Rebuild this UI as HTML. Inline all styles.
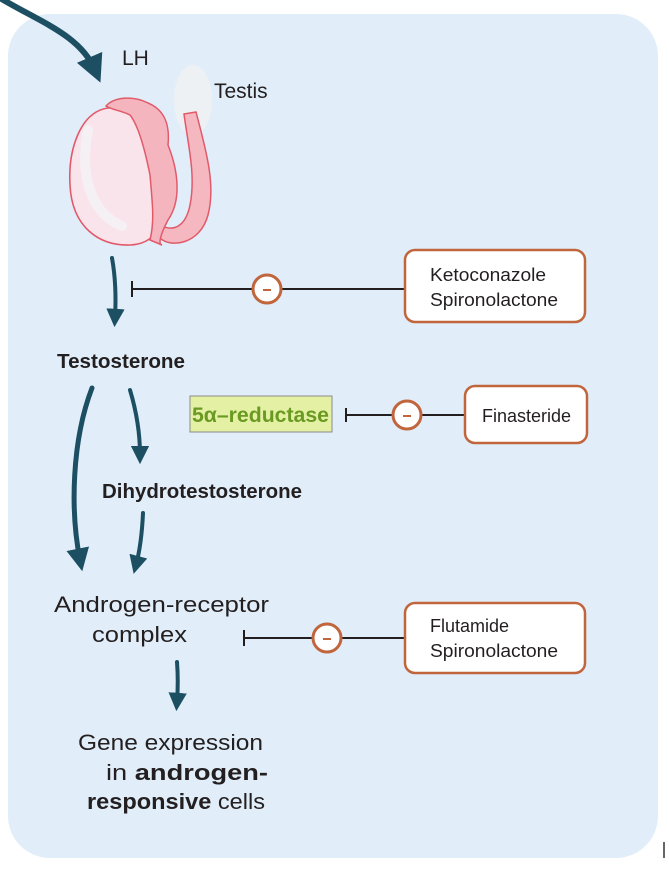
<!DOCTYPE html>
<html><head><meta charset="utf-8"><style>
body{margin:0;background:#fff;width:669px;height:869px;overflow:hidden}
svg{display:block}
text{font-family:"Liberation Sans",sans-serif;fill:#231f20}
</style></head><body>
<svg width="669" height="869" viewBox="0 0 669 869">
<defs>
<marker id="ah" viewBox="0 0 10 10" refX="5" refY="5" markerWidth="4.6" markerHeight="4.6" orient="auto" markerUnits="strokeWidth"><path d="M0,0 L10,5 L0,10 z" fill="#1d4f62"/></marker>
</defs>
<rect x="8" y="14" width="650" height="844" rx="42" fill="#e1eef9"/>
<line x1="664" y1="842" x2="664" y2="858" stroke="#666" stroke-width="2"/>

<g fill="none" stroke="#1d4f62" stroke-linecap="round">
<path d="M0,-2 C40,22 80,35 95,70" stroke-width="6" marker-end="url(#ah)"/>
<path d="M112,258 C116,280 116,300 115,318" stroke-width="4" marker-end="url(#ah)"/>
<path d="M92,388 C72,440 70,510 80,560" stroke-width="5" marker-end="url(#ah)"/>
<path d="M130,390 C136,410 140,430 140,455" stroke-width="4" marker-end="url(#ah)"/>
<path d="M143,513 C142,535 140,550 136,565" stroke-width="4" marker-end="url(#ah)"/>
<path d="M177,662 C178,675 178,688 177,702" stroke-width="4" marker-end="url(#ah)"/>
</g>

<g>
<ellipse cx="193" cy="100" rx="19" ry="35" fill="#eef1f3"/>
<path d="M196,112 C206,150 216,185 208,215 C200,245 170,248 160,238 L162,226 C175,232 186,225 190,205 C196,175 188,145 184,114 Z" fill="#f5b8c0" stroke="#e15a6a" stroke-width="1.5"/>
<path d="M108,108 C80,112 68,150 70,185 C72,228 100,246 130,245 C162,244 170,212 162,170 C154,125 138,105 108,108 Z" fill="#fae4ec" stroke="#e15a6a" stroke-width="1.6"/>
<path d="M88,130 C80,170 88,212 122,226" fill="none" stroke="#f4f0f3" stroke-width="10" stroke-linecap="round"/>
<path d="M106,106 C115,96 135,96 148,103 C165,110 170,125 168,145 C178,170 182,200 168,220 C160,235 158,245 162,245 L150,240 C155,220 152,200 150,175 C145,150 138,125 130,115 C120,110 112,110 106,106 Z" fill="#f5b5bf" stroke="#e15a6a" stroke-width="1.5"/>
</g>

<text x="122" y="65" font-size="21">LH</text>
<text x="214" y="98" font-size="21">Testis</text>
<text x="57" y="368" font-size="20" font-weight="bold" textLength="128" lengthAdjust="spacingAndGlyphs">Testosterone</text>
<text x="102" y="498" font-size="20" font-weight="bold" textLength="200" lengthAdjust="spacingAndGlyphs">Dihydrotestosterone</text>
<text x="54" y="612" font-size="22" textLength="215" lengthAdjust="spacingAndGlyphs">Androgen-receptor</text>
<text x="92" y="642" font-size="22" textLength="95" lengthAdjust="spacingAndGlyphs">complex</text>
<text x="78" y="750" font-size="22" textLength="185" lengthAdjust="spacingAndGlyphs">Gene expression</text>
<text x="106" y="780" font-size="22" textLength="162" lengthAdjust="spacingAndGlyphs">in <tspan font-weight="bold">androgen-</tspan></text>
<text x="87" y="809" font-size="22" textLength="178" lengthAdjust="spacingAndGlyphs"><tspan font-weight="bold">responsive</tspan> cells</text>

<rect x="190" y="396" width="142" height="36" fill="#e4f1a4" stroke="#8a8a8a"/>
<text x="192" y="422" font-size="21" font-weight="bold" style="fill:#6a9a22" textLength="137" lengthAdjust="spacingAndGlyphs">5α–reductase</text>

<g stroke="#231f20" stroke-width="2">
<line x1="132" y1="289" x2="405" y2="289"/><line x1="132" y1="281" x2="132" y2="297"/>
<line x1="346" y1="415" x2="465" y2="415"/><line x1="346" y1="408" x2="346" y2="422"/>
<line x1="244" y1="638" x2="405" y2="638"/><line x1="244" y1="630" x2="244" y2="646"/>
</g>

<g>
<circle cx="267" cy="289" r="14" fill="#fff" stroke="#c0653c" stroke-width="3"/><line x1="263" y1="290" x2="271" y2="290" stroke="#c0653c" stroke-width="2"/>
<circle cx="407" cy="415" r="14" fill="#fff" stroke="#c0653c" stroke-width="3"/><line x1="403" y1="416" x2="411" y2="416" stroke="#c0653c" stroke-width="2"/>
<circle cx="327" cy="638" r="14" fill="#fff" stroke="#c0653c" stroke-width="3"/><line x1="323" y1="639" x2="331" y2="639" stroke="#c0653c" stroke-width="2"/>
</g>

<g>
<rect x="405" y="250" width="180" height="72" rx="10" fill="#fff" stroke="#c0653c" stroke-width="2.5"/>
<text x="430" y="281" font-size="18" textLength="116" lengthAdjust="spacingAndGlyphs">Ketoconazole</text>
<text x="430" y="306" font-size="18" textLength="128" lengthAdjust="spacingAndGlyphs">Spironolactone</text>
<rect x="465" y="386" width="122" height="57" rx="10" fill="#fff" stroke="#c0653c" stroke-width="2.5"/>
<text x="482" y="422" font-size="18">Finasteride</text>
<rect x="405" y="603" width="180" height="70" rx="10" fill="#fff" stroke="#c0653c" stroke-width="2.5"/>
<text x="430" y="632" font-size="18">Flutamide</text>
<text x="430" y="657" font-size="18" textLength="128" lengthAdjust="spacingAndGlyphs">Spironolactone</text>
</g>
</svg>
</body></html>
